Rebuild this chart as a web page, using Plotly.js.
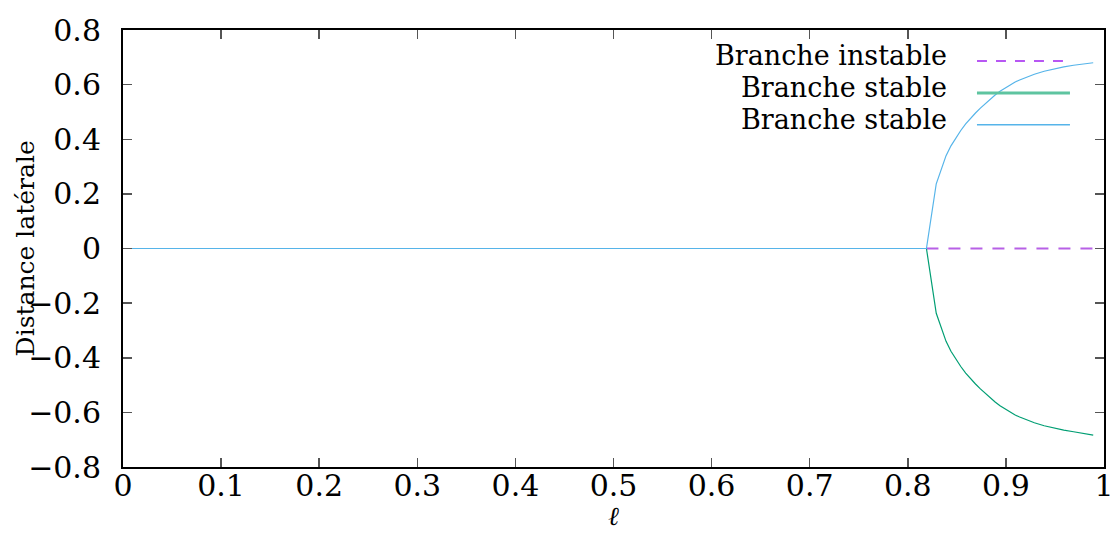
<!DOCTYPE html>
<html>
<head>
<meta charset="utf-8">
<script src="https://cdn.plot.ly/plotly-3.0.1.min.js"></script>
<style>html,body{margin:0;padding:0;background:#fff;}#chart{width:1113px;height:535px;}</style>
</head>
<body>
<div id="chart"></div>
<script>
// Data
const ell = [0, 0.1, 0.2, 0.3, 0.4, 0.5, 0.6, 0.7, 0.8, 0.819, 0.829, 0.839, 0.844, 0.849, 0.854, 0.859, 0.864, 0.869, 0.874, 0.879, 0.884, 0.889, 0.894, 0.899, 0.904, 0.909, 0.914, 0.919, 0.929, 0.939, 0.949, 0.959, 0.969, 0.979, 0.989];
const upperStable = [0, 0, 0, 0, 0, 0, 0, 0, 0, 0, 0.237, 0.34, 0.376, 0.406, 0.432, 0.456, 0.477, 0.496, 0.514, 0.531, 0.547, 0.562, 0.576, 0.588, 0.599, 0.609, 0.617, 0.625, 0.638, 0.649, 0.658, 0.665, 0.671, 0.676, 0.680];
const lowerStable = [0, 0, 0, 0, 0, 0, 0, 0, 0, 0, -0.237, -0.34, -0.376, -0.406, -0.432, -0.456, -0.477, -0.496, -0.514, -0.531, -0.547, -0.562, -0.576, -0.588, -0.599, -0.609, -0.617, -0.625, -0.638, -0.649, -0.658, -0.665, -0.671, -0.677, -0.683];
const ellUnstable = [0.819, 0.839, 0.859, 0.879, 0.899, 0.919, 0.939, 0.959, 0.979, 0.989];
const unstable = [0, 0, 0, 0, 0, 0, 0, 0, 0, 0];
const seriesNames = ["Branche instable", "Branche stable", "Branche stable"];
const xTicks = [0, 0.1, 0.2, 0.3, 0.4, 0.5, 0.6, 0.7, 0.8, 0.9, 1];
const xTickText = ["0", "0.1", "0.2", "0.3", "0.4", "0.5", "0.6", "0.7", "0.8", "0.9", "1"];
const yTicks = [-0.8, -0.6, -0.4, -0.2, 0, 0.2, 0.4, 0.6, 0.8];
const yTickText = ["\u22120.8", "\u22120.6", "\u22120.4", "\u22120.2", "0", "0.2", "0.4", "0.6", "0.8"];
const xTitle = "ℓ";
const yTitle = "Distance latérale";

const colors = ["#b760e6", "#009e73", "#56b4e9"];
const legendColors = ["#a020f0", "#5ec4a0", "#56b4e9"];
const FONT = "DejaVu Serif";

const traces = [
  {x: ellUnstable, y: unstable, name: seriesNames[0], mode: "lines",
   line: {color: colors[0], width: 2, dash: "12px,10px"}},
  {x: ell, y: lowerStable, name: seriesNames[1], mode: "lines",
   line: {color: colors[1], width: 1.2}},
  {x: ell, y: upperStable, name: seriesNames[2], mode: "lines",
   line: {color: colors[2], width: 1.2}}
];

// custom legend (text right-aligned, sample on the right, as in the reference)
const legY = [0.929, 0.856, 0.783];
const annotations = seriesNames.map((n, i) => ({
  xref: "paper", yref: "paper", x: 0.842, y: legY[i] + 0.012,
  xanchor: "right", yanchor: "middle", text: n, showarrow: false,
  font: {family: FONT, size: 27, color: "#000"}
}));
annotations.push({
  xref: "paper", yref: "paper", x: 0.5, y: -0.151, xanchor: "center", yanchor: "bottom",
  text: "<i>" + xTitle + "</i>", showarrow: false, font: {family: FONT, size: 26, color: "#000"}
});
annotations.push({
  xref: "paper", yref: "paper", x: -0.099, y: 0.5, xanchor: "center", yanchor: "middle",
  textangle: -90, text: yTitle, showarrow: false, font: {family: FONT, size: 25, color: "#000"}
});
const shapes = seriesNames.map((n, i) => ({
  type: "line", xref: "paper", yref: "paper",
  x0: 0.8705, x1: 0.9653, y0: legY[i], y1: legY[i],
  line: {color: legendColors[i], width: i === 1 ? 3 : 1.5, dash: i === 0 ? "10px,9px" : "solid"}
}));

const layout = {
  width: 1113, height: 535,
  margin: {l: 123, r: 9, t: 30, b: 68},
  paper_bgcolor: "#fff", plot_bgcolor: "#fff",
  showlegend: false,
  font: {family: FONT, size: 30, color: "#000"},
  xaxis: {
    range: [0, 1], tickvals: xTicks, ticktext: xTickText,
    ticks: "inside", ticklen: 9, tickcolor: "#555", tickwidth: 1.5,
    showline: true, linecolor: "#000", linewidth: 2, mirror: "ticks",
    showgrid: false, zeroline: false, ticklabeloverflow: "allow",
    ticklabelstandoff: -9,
    tickfont: {family: FONT, size: 30}
  },
  yaxis: {
    range: [-0.8, 0.8], tickvals: yTicks, ticktext: yTickText,
    ticks: "inside", ticklen: 9, tickcolor: "#555", tickwidth: 1.5,
    showline: true, linecolor: "#000", linewidth: 2, mirror: "ticks",
    showgrid: false, zeroline: false, ticklabeloverflow: "allow",
    ticklabelstandoff: 14,
    tickfont: {family: FONT, size: 30}
  },
  annotations: annotations,
  shapes: shapes
};

Plotly.newPlot("chart", traces, layout, {displayModeBar: false, staticPlot: true});
</script>
</body>
</html>
